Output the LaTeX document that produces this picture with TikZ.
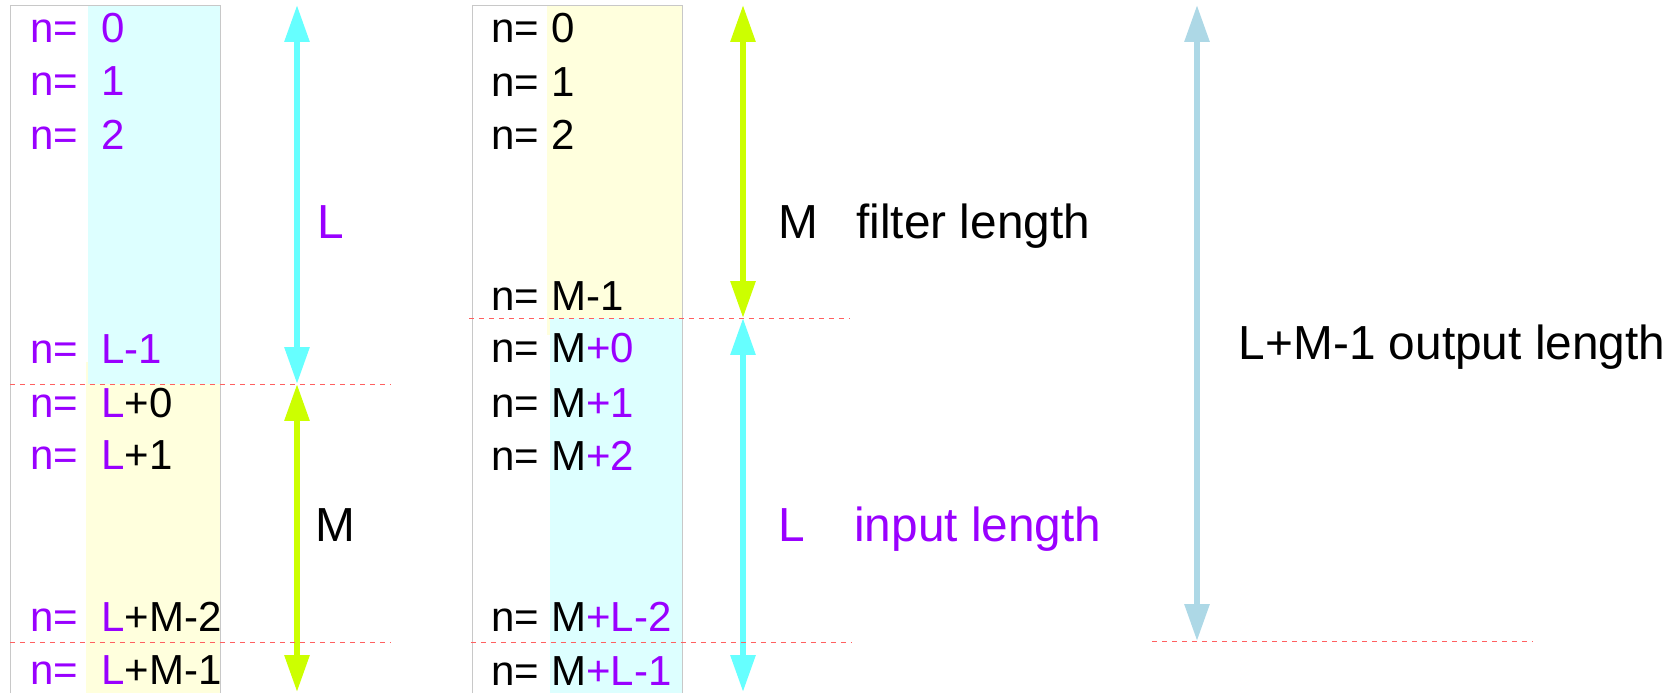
\documentclass[tikz,border=0pt]{standalone}
\usepackage{fontspec}
\setmainfont{Liberation Sans}
\usepackage{tikz}
\usetikzlibrary{arrows.meta, positioning}
\definecolor{lilac}{HTML}{9900FF}
\definecolor{palecyan}{HTML}{DDFFFF}
\definecolor{paleyellow}{HTML}{FFFFDD}
\definecolor{arrowcyan}{HTML}{66FFFF}
\definecolor{arrowlime}{HTML}{CCFF00}
\definecolor{arrowblue}{HTML}{ADD8E6}
\definecolor{cutred}{HTML}{FF6060}
\definecolor{framegray}{HTML}{C8C8C8}

\begin{document}
\begin{tikzpicture}[x=0.02cm, y=-0.02cm,
    rowtxt/.style={anchor=base west, inner sep=0pt, font=\fontsize{23.9}{28}\selectfont},
    lbl/.style={anchor=base west, inner sep=0pt, font=\fontsize{27.2}{32}\selectfont},
    span/.style={{Triangle[width=0.48cm,length=0.74cm]}-{Triangle[width=0.48cm,length=0.74cm]}, line width=0.12cm},
    cut/.style={draw=cutred, line width=0.02cm, dash pattern=on 0.1cm off 0.1cm},
    frame/.style={draw=framegray, line width=0.02cm}
]
    \useasboundingbox (0,0) rectangle (1673,693);

    % shaded columns
    \fill[paleyellow] (86,362) rectangle (220,693);
    \fill[palecyan] (88,5) rectangle (220,384);
    \fill[paleyellow] (547,5) rectangle (682,335);
    \fill[palecyan] (550,318) rectangle (682,693);
    \draw[frame] (10,693) -- (10,5) -- (220,5) -- (220,693);
    \draw[frame] (472,693) -- (472,5) -- (682,5) -- (682,693);

    % left column: x[n], then h[n]
    \node[rowtxt, text=lilac] (ln0) at (30,42) {n=};   \node[rowtxt, text=lilac] (lv0) at (101,42) {0};
    \node[rowtxt, text=lilac] (ln1) at (30,95) {n=};   \node[rowtxt, text=lilac] (lv1) at (101,95) {1};
    \node[rowtxt, text=lilac] (ln2) at (30,149) {n=};  \node[rowtxt, text=lilac] (lv2) at (101,149) {2};
    \node[rowtxt, text=lilac] (ln3) at (30,363) {n=};  \node[rowtxt, text=lilac] (lv3) at (101,363) {L-1};
    \node[rowtxt, text=lilac] (ln4) at (30,417) {n=};  \node[rowtxt] (lv4) at (101,417) {{\color{lilac}L}+0};
    \node[rowtxt, text=lilac] (ln5) at (30,469) {n=};  \node[rowtxt] (lv5) at (101,469) {{\color{lilac}L}+1};
    \node[rowtxt, text=lilac] (ln6) at (30,631) {n=};  \node[rowtxt] (lv6) at (101,631) {{\color{lilac}L}+M-2};
    \node[rowtxt, text=lilac] (ln7) at (30,684) {n=};  \node[rowtxt] (lv7) at (101,684) {{\color{lilac}L}+M-1};

    % middle column: h[n], then x[n]
    \node[rowtxt] (mn0) at (491,42) {n=};   \node[rowtxt] (mv0) at (551,42) {0};
    \node[rowtxt] (mn1) at (491,96) {n=};   \node[rowtxt] (mv1) at (551,96) {1};
    \node[rowtxt] (mn2) at (491,149) {n=};  \node[rowtxt] (mv2) at (551,149) {2};
    \node[rowtxt] (mn3) at (491,310) {n=};  \node[rowtxt] (mv3) at (551,310) {M-1};
    \node[rowtxt] (mn4) at (491,362) {n=};  \node[rowtxt] (mv4) at (551,362) {M{\color{lilac}+0}};
    \node[rowtxt] (mn5) at (491,417) {n=};  \node[rowtxt] (mv5) at (551,417) {M{\color{lilac}+1}};
    \node[rowtxt] (mn6) at (491,470) {n=};  \node[rowtxt] (mv6) at (551,470) {M{\color{lilac}+2}};
    \node[rowtxt] (mn7) at (491,631) {n=};  \node[rowtxt] (mv7) at (551,631) {M{\color{lilac}+L-2}};
    \node[rowtxt] (mn8) at (491,685) {n=};  \node[rowtxt] (mv8) at (551,685) {M{\color{lilac}+L-1}};

    % span labels
    \node[lbl, text=lilac] (lenL) at (317,238) {L};
    \node[lbl] (lenM) at (315.5,541) {M};
    \node[lbl] (filtM) at (778.5,238) {M};
    \node[lbl] (filtTxt) at (856,238) {filter length};
    \node[lbl, text=lilac] (inL) at (778.5,541) {L};
    \node[lbl, text=lilac] (inTxt) at (854,541) {input length};
    \node[lbl] (outTxt) at (1238.5,359) {L+M-1 output length};

    % span arrows
    \coordinate (la) at (297,5);   \coordinate (lb) at (297,384);  \coordinate (lc) at (297,692);
    \coordinate (ma) at (743,5);   \coordinate (mb) at (743,318);  \coordinate (mc) at (743,692);
    \coordinate (ra) at (1197,5);  \coordinate (rb) at (1197,641);
    \draw[span, draw=arrowcyan] (la) -- (lb);
    \draw[span, draw=arrowlime] (lb) -- (lc);
    \draw[span, draw=arrowlime] (ma) -- (mb);
    \draw[span, draw=arrowcyan] (mb) -- (mc);
    \draw[span, draw=arrowblue] (ra) -- (rb);

    % block boundaries
    \draw[cut] (10,384) -- (390,384);
    \draw[cut] (10,642) -- (390,642);
    \draw[cut] (469,318) -- (850,318);
    \draw[cut] (471,642) -- (852,642);
    \draw[cut] (1152,641) -- (1533,641);
\end{tikzpicture}
\end{document}
